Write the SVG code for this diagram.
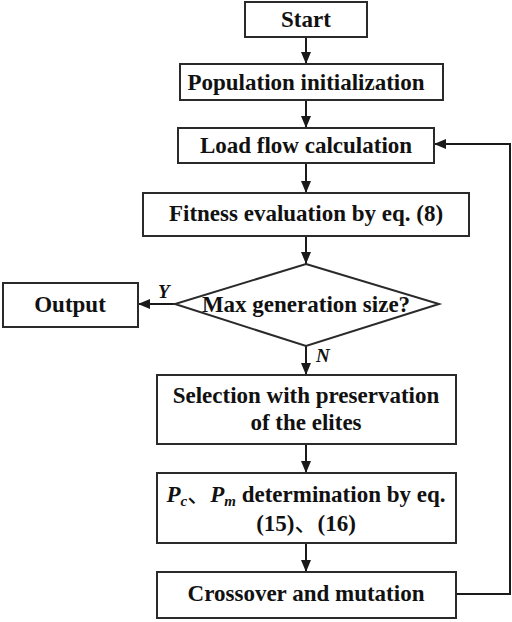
<svg xmlns="http://www.w3.org/2000/svg" width="512" height="622" viewBox="0 0 512 622">
<defs>
<marker id="ah" markerWidth="12" markerHeight="10" refX="12" refY="5" orient="auto" markerUnits="userSpaceOnUse">
<path d="M0,0 L12,5 L0,10 Z" fill="#1a1a1a"/>
</marker>
<style>
.box{fill:#fff;stroke:#2a2a2a;stroke-width:2}
.t{font-family:"Liberation Serif","Times New Roman",serif;font-weight:bold;font-size:23px;fill:#111;text-anchor:middle}
.lbl{font-family:"Liberation Serif","Times New Roman",serif;font-weight:bold;font-style:italic;font-size:19px;fill:#111}
.c{fill:none;stroke:#1a1a1a;stroke-width:2}
</style>
</defs>
<rect width="512" height="622" fill="#fff"/>
<g id="connectors">
<line class="c" x1="306" y1="37" x2="306" y2="64" marker-end="url(#ah)"/>
<line class="c" x1="306" y1="100" x2="306" y2="128" marker-end="url(#ah)"/>
<line class="c" x1="306" y1="163" x2="306" y2="193" marker-end="url(#ah)"/>
<line class="c" x1="306" y1="236" x2="306" y2="264" marker-end="url(#ah)"/>
<line class="c" x1="175" y1="304" x2="138" y2="304" marker-end="url(#ah)"/>
<line class="c" x1="306" y1="346" x2="306" y2="375" marker-end="url(#ah)"/>
<line class="c" x1="306" y1="444" x2="306" y2="473" marker-end="url(#ah)"/>
<line class="c" x1="306" y1="543" x2="306" y2="572" marker-end="url(#ah)"/>
<polyline class="c" points="456,594 510,594 510,144 434,144" marker-end="url(#ah)"/>
<text class="lbl" x="158" y="298">Y</text>
<text class="lbl" x="316" y="362">N</text>
</g>
<g id="start">
<rect class="box" x="245" y="2" width="122" height="35"/>
<text class="t" x="306" y="27">Start</text>
</g>
<g id="population">
<rect class="box" x="180" y="64" width="263" height="36"/>
<text class="t" x="306" y="90">Population initialization</text>
</g>
<g id="loadflow">
<rect class="box" x="178" y="128" width="256" height="35"/>
<text class="t" x="306" y="153">Load flow calculation</text>
</g>
<g id="fitness">
<rect class="box" x="143" y="193" width="326" height="43"/>
<text class="t" x="306" y="221">Fitness evaluation by eq. (8)</text>
</g>
<g id="decision">
<polygon class="box" points="306,264 439,304 306,346 175,304"/>
<text class="t" x="306" y="312">Max generation size?</text>
</g>
<g id="output">
<rect class="box" x="3" y="283" width="135" height="44"/>
<text class="t" x="70" y="312">Output</text>
</g>
<g id="selection">
<rect class="box" x="157" y="375" width="299" height="69"/>
<text class="t" x="306" y="403">Selection with preservation</text>
<text class="t" x="306" y="430">of the elites</text>
</g>
<g id="pcpm">
<rect class="box" x="157" y="473" width="299" height="70"/>
<text class="t" x="306" y="502"><tspan font-style="italic">P</tspan><tspan font-style="italic" font-size="15" dy="4">c</tspan><tspan dy="-4" font-family="'Noto Sans CJK SC',sans-serif" font-weight="normal">、</tspan><tspan font-style="italic">P</tspan><tspan font-style="italic" font-size="15" dy="4">m</tspan><tspan dy="-4"> determination by eq.</tspan></text>
<text class="t" x="306" y="531">(15)<tspan font-family="'Noto Sans CJK SC',sans-serif" font-weight="normal">、</tspan>(16)</text>
</g>
<g id="crossover">
<rect class="box" x="157" y="572" width="299" height="46"/>
<text class="t" x="306" y="601">Crossover and mutation</text>
</g>
</svg>
